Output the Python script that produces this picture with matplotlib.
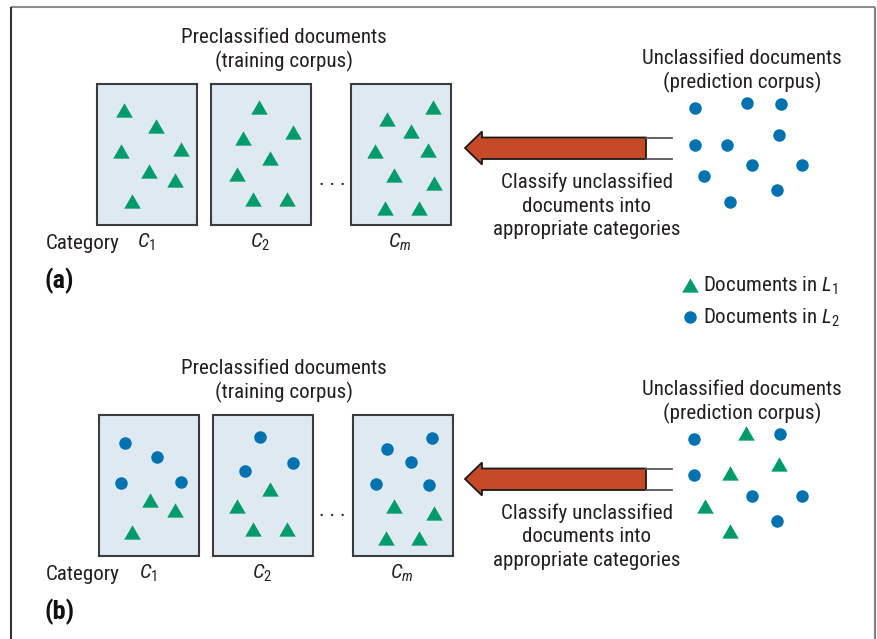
import matplotlib
matplotlib.use("Agg")
import matplotlib.pyplot as plt
from matplotlib import font_manager
from matplotlib.patches import Rectangle, Polygon

# ---------------- data ----------------
CATEGORY_LABELS = ["$C_1$", "$C_2$", "$C_m$"]
PANEL_LABELS = ["(a)", "(b)"]
TRAIN_TITLE = ["Preclassified documents", "(training corpus)"]
PRED_TITLE = ["Unclassified documents", "(prediction corpus)"]
ARROW_TEXT = ["Classify unclassified", "documents into", "appropriate categories"]
LEGEND_LABELS = ["Documents in $L_1$", "Documents in $L_2$"]

# panel (a): documents (x, y) in pixel space
A_C1_TRI = [(124, 110), (156, 126), (121, 151), (181, 149), (149, 171), (175, 180), (132, 201)]
A_C2_TRI = [(259, 107), (293, 132), (243, 138), (270, 158), (237, 174), (253, 199), (287, 199)]
A_CM_TRI = [(433, 107), (387, 119), (411, 131), (375, 151), (428, 150), (394, 175),
            (434, 183), (385, 208), (419, 208)]
A_UN_DOT = [(695, 108), (747, 103), (781, 104), (779, 135), (695, 145), (727, 145),
            (752, 165), (802, 165), (704, 176), (777, 190), (730, 202)]

# panel (b)
B_C1_DOT = [(125, 443), (157, 457), (121, 483), (181, 482)]
B_C1_TRI = [(150, 500), (175, 510), (132, 532)]
B_C2_DOT = [(260, 437), (293, 463), (245, 471)]
B_C2_TRI = [(270, 489), (237, 506), (253, 529), (287, 529)]
B_CM_DOT = [(432, 438), (387, 449), (411, 462), (376, 484), (429, 485)]
B_CM_TRI = [(394, 506), (434, 513), (386, 538), (419, 538)]
B_UN_DOT = [(694, 439), (780, 434), (694, 475), (752, 496), (802, 496), (777, 521)]
B_UN_TRI = [(746, 433), (779, 464), (730, 473), (705, 506), (730, 531)]

# ---------------- fonts ----------------
names = {f.name for f in font_manager.fontManager.ttflist}
FONT = None
for cand in ["Roboto Condensed", "Liberation Sans Narrow", "Open Sans Condensed",
             "DejaVu Sans Condensed", "Liberation Sans"]:
    if cand in names:
        FONT = cand
        break
if FONT is None:
    FONT = "DejaVu Sans"
NARROW = FONT != "Liberation Sans" and FONT != "DejaVu Sans"
FS = 15.1 if NARROW else 13.5
FSB = 19 if NARROW else 16

plt.rcParams["font.family"] = [FONT, "DejaVu Sans"]
plt.rcParams["mathtext.fontset"] = "custom"
plt.rcParams["mathtext.rm"] = FONT
plt.rcParams["mathtext.it"] = FONT + ":italic"
plt.rcParams["mathtext.bf"] = FONT + ":bold"

GREEN = "#009b6b"
BLUE = "#0072b0"
BOXFILL = "#dfe9f2"
RED = "#c64a27"
TXT = "#231f20"

TRI = [(0, 0.866), (-1, -0.866), (1, -0.866), (0, 0.866)]
TRI_MS = 11.9
DOT_MS = 9.0

fig = plt.figure(figsize=(8.78, 6.39), dpi=100)
ax = fig.add_axes([0, 0, 1, 1])
ax.set_xlim(0, 878)
ax.set_ylim(639, 0)
ax.axis("off")

# outer frame
ax.plot([11, 875], [7, 7], color="#8c8c8c", lw=1.5, solid_capstyle="butt")
ax.plot([11, 11], [7, 639], color="#333333", lw=1.5, solid_capstyle="butt")
ax.plot([875, 875], [7, 639], color="#808080", lw=1.5, solid_capstyle="butt")


def tri(pts):
    if pts:
        xs, ys = zip(*pts)
        ax.plot(xs, ys, linestyle="none", marker=TRI, markersize=TRI_MS,
                color=GREEN, markeredgewidth=0, zorder=4)


def dot(pts):
    if pts:
        xs, ys = zip(*pts)
        ax.plot(xs, ys, linestyle="none", marker="o", markersize=DOT_MS,
                color=BLUE, markeredgewidth=0, zorder=4)


def panel(dy, box_x0, panel_label):
    # boxes
    for x0, lab in zip(box_x0, CATEGORY_LABELS):
        ax.add_patch(Rectangle((x0, 84 + dy), 100, 141, facecolor=BOXFILL,
                               edgecolor="#3c3c3c", lw=1.5, zorder=2))
        ax.text(x0 + 49, 248 + dy, lab, ha="center", va="baseline",
                fontsize=FS, color=TXT)
    ax.text(46, 249 + dy, "Category", ha="left", va="baseline", fontsize=FS, color=TXT)
    ax.text(45, 288 + dy, panel_label, ha="left", va="baseline", fontsize=FSB,
            fontweight="bold", color="#111111")
    ax.text(332, 185 + dy, ". . .", ha="center", va="baseline", fontsize=FS, color=TXT)
    # titles
    ax.text(284, 43 + dy, TRAIN_TITLE[0], ha="center", va="baseline", fontsize=FS, color=TXT)
    ax.text(284, 67 + dy, TRAIN_TITLE[1], ha="center", va="baseline", fontsize=FS, color=TXT)
    ax.text(742, 64 + dy, PRED_TITLE[0], ha="center", va="baseline", fontsize=FS, color=TXT)
    ax.text(742, 88 + dy, PRED_TITLE[1], ha="center", va="baseline", fontsize=FS, color=TXT)
    for i, line in enumerate(ARROW_TEXT):
        ax.text(587, 188 + dy + 23.5 * i, line, ha="center", va="baseline",
                fontsize=FS, color=TXT)
    # arrow
    yc = 148 + dy
    poly = [(465, yc), (482, yc - 16.5), (482, yc - 10.5), (646, yc - 10.5),
            (646, yc + 11), (482, yc + 11), (482, yc + 16.5)]
    ax.add_patch(Polygon(poly, closed=True, facecolor=RED, edgecolor="#1a1a1a",
                         lw=1.3, joinstyle="miter", zorder=3))
    ax.plot([646, 672], [yc - 10.5, yc - 10.5], color="#555555", lw=1.3, zorder=3)
    ax.plot([646, 672], [yc + 11, yc + 11], color="#555555", lw=1.3, zorder=3)


panel(0, [97, 211, 351], PANEL_LABELS[0])
panel(331, [99, 213, 353], PANEL_LABELS[1])

tri(A_C1_TRI); tri(A_C2_TRI); tri(A_CM_TRI); dot(A_UN_DOT)
dot(B_C1_DOT); tri(B_C1_TRI); dot(B_C2_DOT); tri(B_C2_TRI)
dot(B_CM_DOT); tri(B_CM_TRI); dot(B_UN_DOT); tri(B_UN_TRI)

# legend
tri([(690, 285)])
dot([(690, 317)])
ax.text(703, 292, LEGEND_LABELS[0], ha="left", va="baseline", fontsize=FS, color=TXT)
ax.text(703, 324, LEGEND_LABELS[1], ha="left", va="baseline", fontsize=FS, color=TXT)

fig.savefig("out.png", dpi=100)
